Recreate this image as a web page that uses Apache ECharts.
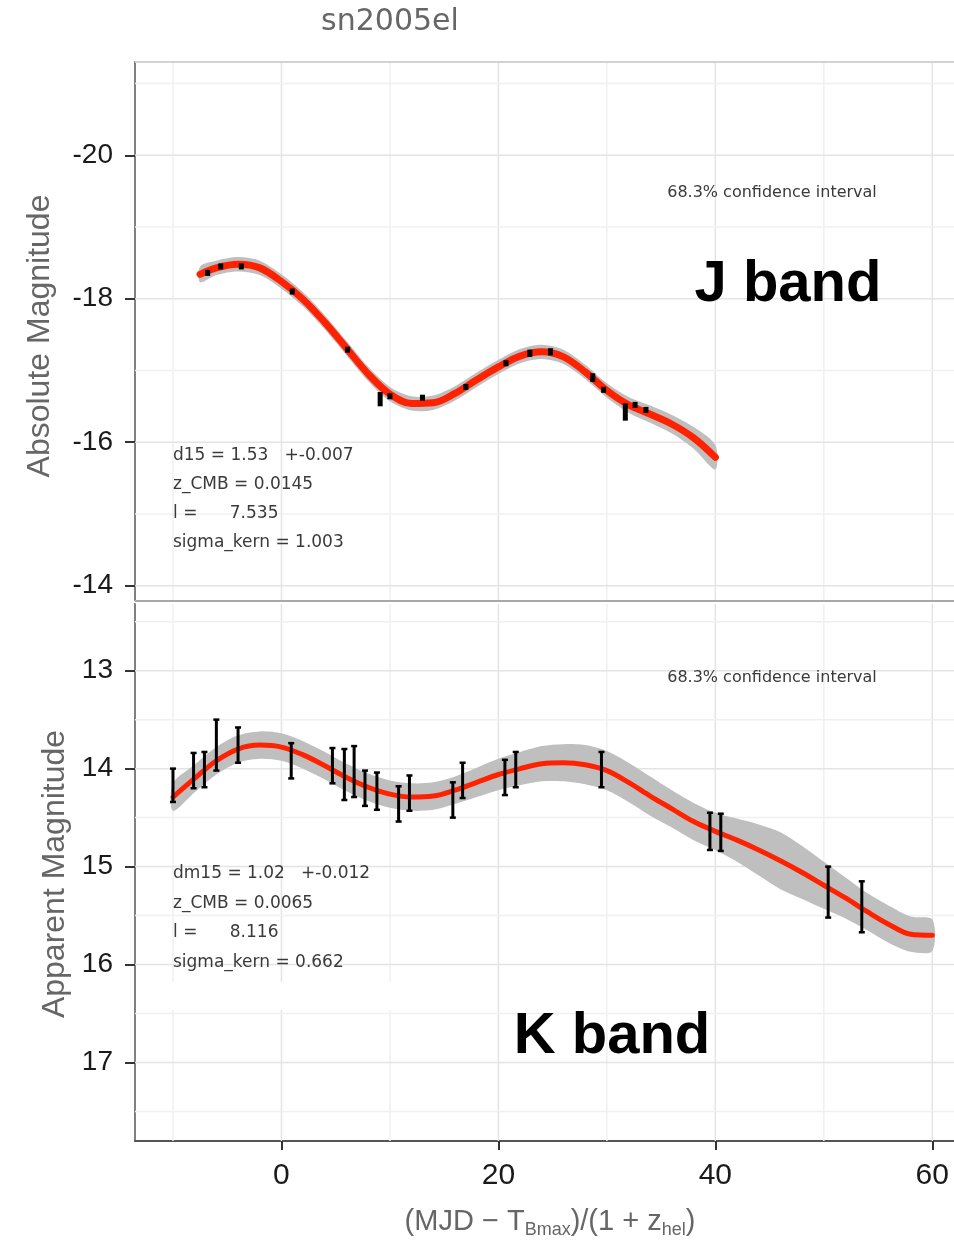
<!DOCTYPE html>
<html>
<head>
<meta charset="utf-8">
<script src="https://cdn.jsdelivr.net/npm/echarts@6/dist/echarts.min.js"></script>
<style>
  html, body { margin: 0; padding: 0; background: #fff; }
  #chart { width: 954px; height: 1243px; }
</style>
</head>
<body>
<div id="chart"></div>
<script>
// ---- J band: Gaussian-process fit (absolute magnitude) ----
const jFitPhase = [-7.5, -6, -4, -2, 0, 2, 4, 6, 8, 10, 12, 14, 16, 18, 20, 22, 24, 26, 28, 30, 32, 34, 36, 38, 40];
const jFitMag = [-18.34, -18.43, -18.48, -18.43, -18.24, -17.99, -17.67, -17.31, -16.95, -16.67, -16.54, -16.55, -16.68, -16.87, -17.05, -17.20, -17.26, -17.19, -16.98, -16.72, -16.52, -16.39, -16.25, -16.06, -15.79];
const jFitSigma = [0.11, 0.10, 0.10, 0.10, 0.10, 0.10, 0.10, 0.10, 0.10, 0.10, 0.10, 0.10, 0.10, 0.10, 0.10, 0.10, 0.10, 0.10, 0.10, 0.10, 0.11, 0.12, 0.13, 0.15, 0.17];

// J band observations
const jObsPhase = [-6.8, -5.6, -3.7, 1.0, 6.1, 9.1, 10.0, 13.0, 17.0, 20.7, 22.9, 24.8, 28.7, 29.7, 31.7, 32.6, 33.6];
const jObsMag = [-18.36, -18.45, -18.45, -18.10, -17.29, -16.60, -16.64, -16.62, -16.77, -17.10, -17.24, -17.26, -16.90, -16.73, -16.42, -16.52, -16.45];
const jObsErr = [0.03, 0.03, 0.03, 0.03, 0.03, 0.10, 0.03, 0.04, 0.03, 0.03, 0.05, 0.05, 0.06, 0.03, 0.12, 0.04, 0.02];

// ---- K band: Gaussian-process fit (apparent magnitude) ----
const kFitPhase = [-10, -8, -6, -4, -2, 0, 2, 4, 6, 8, 10, 12, 14, 16, 18, 20, 22, 24, 26, 28, 30, 32, 34, 36, 38, 40, 42, 44, 46, 48, 50, 52, 54, 56, 58, 60];
const kFitMag = [14.29, 14.10, 13.92, 13.80, 13.76, 13.78, 13.86, 13.97, 14.09, 14.19, 14.26, 14.29, 14.28, 14.22, 14.14, 14.06, 14.00, 13.95, 13.94, 13.96, 14.02, 14.14, 14.28, 14.41, 14.54, 14.64, 14.73, 14.83, 14.94, 15.06, 15.19, 15.32, 15.46, 15.59, 15.69, 15.70];
const kFitSigma = [0.14, 0.14, 0.14, 0.14, 0.14, 0.14, 0.14, 0.14, 0.14, 0.14, 0.14, 0.14, 0.14, 0.14, 0.15, 0.16, 0.17, 0.18, 0.19, 0.20, 0.20, 0.20, 0.20, 0.19, 0.19, 0.19, 0.22, 0.26, 0.29, 0.27, 0.24, 0.21, 0.19, 0.19, 0.18, 0.16];

// K band observations
const kObsPhase = [-10.0, -8.1, -7.1, -6.0, -4.0, 0.9, 4.7, 5.8, 6.7, 7.7, 8.8, 10.8, 11.8, 15.8, 16.7, 20.6, 21.6, 29.5, 39.5, 40.5, 50.4, 53.5];
const kObsMag = [14.17, 14.02, 14.01, 13.76, 13.76, 13.92, 13.97, 14.06, 14.03, 14.20, 14.23, 14.36, 14.25, 14.32, 14.12, 14.09, 14.01, 14.01, 14.64, 14.65, 15.26, 15.41];
const kObsErr = [0.17, 0.18, 0.18, 0.26, 0.18, 0.18, 0.18, 0.26, 0.26, 0.18, 0.19, 0.18, 0.18, 0.18, 0.18, 0.18, 0.18, 0.18, 0.19, 0.19, 0.26, 0.26];

// Axis ticks and grid lines
const phaseTicks = [0, 20, 40, 60];
const phaseMinorGrid = [-10, 10, 30, 50];
const jTicks = [-20, -18, -16, -14];
const jMinorGrid = [-21, -19, -17, -15];
const kTicks = [13, 14, 15, 16, 17];
const kMinorGrid = [12.5, 13.5, 14.5, 15.5, 16.5, 17.5];

// Fit parameter text
const jParams = ['d15 = 1.53   +-0.007', 'z_CMB = 0.0145', 'l =      7.535', 'sigma_kern = 1.003'];
const kParams = ['dm15 = 1.02   +-0.012', 'z_CMB = 0.0065', 'l =      8.116', 'sigma_kern = 0.662'];

// Visible phase window (panel continues past the right edge of the canvas)
const PHASE_MIN = -13.5, PHASE_MAX = 62;
const J_MIN = -21.3, J_MAX = -13.8;
const K_MIN = 12.32, K_MAX = 17.8;

const RED = '#ff2200';
const BAND = '#bfbfbf';
const MAJOR = '#e4e4e4';
const MINOR = '#f0f0f0';

function zip(a, b, c) {
  return a.map((v, i) => c ? [v, b[i], c[i]] : [v, b[i]]);
}

// Vertical / horizontal grid lines drawn through the axis scales
function gridLines(idx, values, vertical, color, width, refOther) {
  return {
    type: 'custom', xAxisIndex: idx, yAxisIndex: idx, silent: true, z: 1,
    data: values.map(v => vertical ? [v, refOther] : [refOther, v]),
    renderItem: function (params, api) {
      const cs = params.coordSys;
      const p = api.coord([api.value(0), api.value(1)]);
      const shape = vertical
        ? { x1: p[0], y1: cs.y, x2: p[0], y2: cs.y + cs.height }
        : { x1: cs.x, y1: p[1], x2: cs.x + cs.width, y2: p[1] };
      return { type: 'line', shape: shape, style: { stroke: color, lineWidth: width } };
    }
  };
}

// Confidence band polygon around the fit
function bandSeries(idx, phase, mag, sigma) {
  return {
    type: 'custom', xAxisIndex: idx, yAxisIndex: idx, silent: true, z: 2,
    data: [[phase[0], mag[0]]],
    renderItem: function (params, api) {
      const upper = phase.map((x, i) => api.coord([x, mag[i] - sigma[i]]));
      const lower = phase.map((x, i) => api.coord([x, mag[i] + sigma[i]])).reverse();
      return { type: 'polygon', shape: { points: upper.concat(lower), smooth: 0.3 }, style: { fill: BAND } };
    }
  };
}

function fitSeries(idx, phase, mag, width) {
  return {
    type: 'line', xAxisIndex: idx, yAxisIndex: idx, silent: true, z: 3,
    data: zip(phase, mag), smooth: 0.35, showSymbol: false, symbol: 'none',
    lineStyle: { color: RED, width: width, cap: 'round' }
  };
}

function errorSeries(idx, phase, mag, err, capped) {
  return {
    type: 'custom', xAxisIndex: idx, yAxisIndex: idx, silent: true, z: 4,
    data: zip(phase, mag, err),
    renderItem: function (params, api) {
      const x = api.value(0), y = api.value(1), e = api.value(2);
      const a = api.coord([x, y - e]);
      const b = api.coord([x, y + e]);
      if (!capped) {
        const c = (a[1] + b[1]) / 2;
        const h = Math.max(Math.abs(b[1] - a[1]), 6);
        return { type: 'rect', shape: { x: a[0] - 2.5, y: c - h / 2, width: 5, height: h }, style: { fill: '#000' } };
      }
      return {
        type: 'group', children: [
          { type: 'line', shape: { x1: a[0], y1: a[1], x2: b[0], y2: b[1] }, style: { stroke: '#000', lineWidth: 3 } },
          { type: 'line', shape: { x1: a[0] - 3, y1: a[1], x2: a[0] + 3, y2: a[1] }, style: { stroke: '#000', lineWidth: 2.5 } },
          { type: 'line', shape: { x1: b[0] - 3, y1: b[1], x2: b[0] + 3, y2: b[1] }, style: { stroke: '#000', lineWidth: 2.5 } }
        ]
      };
    }
  };
}

const labelFont = 'Liberation Sans, Arial, sans-serif';
const smallFont = 'DejaVu Sans, sans-serif';

function paramText(lines, x, y0, step) {
  return lines.map((t, i) => ({
    type: 'text', x: x, y: y0 + i * step, z: 10,
    style: { text: t, fontSize: 17, fontFamily: smallFont, fill: '#3a3a3a', align: 'left', verticalAlign: 'middle' }
  }));
}

const chart = echarts.init(document.getElementById('chart'), null, { renderer: 'canvas' });

chart.setOption({
  animation: false,
  backgroundColor: '#fff',
  grid: [
    { left: 135, top: 62, right: 0, height: 538 },
    { left: 135, top: 604, right: 0, height: 537 }
  ],
  xAxis: [
    {
      gridIndex: 0, type: 'value', min: PHASE_MIN, max: PHASE_MAX,
      axisLine: { show: false }, axisTick: { show: false }, axisLabel: { show: false }, splitLine: { show: false }
    },
    {
      gridIndex: 1, type: 'value', min: PHASE_MIN, max: PHASE_MAX,
      axisLine: { show: true, onZero: false, lineStyle: { color: '#555', width: 2 } },
      axisTick: { show: true, length: 9, customValues: phaseTicks, lineStyle: { color: '#333', width: 2 } },
      axisLabel: { customValues: phaseTicks, fontSize: 30, color: '#1a1a1a', fontFamily: labelFont, margin: 20 },
      splitLine: { show: false }
    }
  ],
  yAxis: [
    {
      gridIndex: 0, type: 'value', min: J_MIN, max: J_MAX, inverse: true,
      axisLine: { show: true, onZero: false, lineStyle: { color: '#808080', width: 2 } },
      axisTick: { show: true, length: 10, customValues: jTicks, lineStyle: { color: '#333', width: 2 } },
      axisLabel: { customValues: jTicks, fontSize: 28, color: '#1a1a1a', fontFamily: labelFont, margin: 22 },
      splitLine: { show: false }
    },
    {
      gridIndex: 1, type: 'value', min: K_MIN, max: K_MAX, inverse: true,
      axisLine: { show: true, onZero: false, lineStyle: { color: '#808080', width: 2 } },
      axisTick: { show: true, length: 10, customValues: kTicks, lineStyle: { color: '#333', width: 2 } },
      axisLabel: { customValues: kTicks, fontSize: 28, color: '#1a1a1a', fontFamily: labelFont, margin: 22 },
      splitLine: { show: false }
    }
  ],
  series: [
    gridLines(0, phaseMinorGrid, true, MINOR, 1.5, J_MIN),
    gridLines(0, phaseTicks, true, MAJOR, 1.5, J_MIN),
    gridLines(0, jMinorGrid, false, MINOR, 1.5, PHASE_MIN),
    gridLines(0, jTicks, false, MAJOR, 1.5, PHASE_MIN),
    gridLines(1, phaseMinorGrid, true, MINOR, 1.5, K_MIN),
    gridLines(1, phaseTicks, true, MAJOR, 1.5, K_MIN),
    gridLines(1, kMinorGrid, false, MINOR, 1.5, PHASE_MIN),
    gridLines(1, kTicks, false, MAJOR, 1.5, PHASE_MIN),
    bandSeries(0, jFitPhase, jFitMag, jFitSigma),
    fitSeries(0, jFitPhase, jFitMag, 7),
    errorSeries(0, jObsPhase, jObsMag, jObsErr, false),
    bandSeries(1, kFitPhase, kFitMag, kFitSigma),
    fitSeries(1, kFitPhase, kFitMag, 5),
    errorSeries(1, kObsPhase, kObsMag, kObsErr, true)
  ],
  graphic: [
    // panel frame lines
    { type: 'line', z: 6, shape: { x1: 135, y1: 62, x2: 954, y2: 62 }, style: { stroke: '#d2d2d2', lineWidth: 2 } },
    { type: 'line', z: 6, shape: { x1: 135, y1: 601, x2: 954, y2: 601 }, style: { stroke: '#a8a8a8', lineWidth: 2 } },
    // blank strip below the K-band parameters
    { type: 'rect', z: 5, shape: { x: 137, y: 982, width: 310, height: 28 }, style: { fill: '#fff' } },
    // title
    { type: 'text', x: 390, y: 22, z: 10, style: { text: 'sn2005el', fontSize: 30, fontFamily: smallFont, fill: '#666', align: 'center', verticalAlign: 'middle' } },
    // y-axis titles
    { type: 'text', x: 40, y: 336, rotation: Math.PI / 2, z: 10, style: { text: 'Absolute Magnitude', fontSize: 32, fontFamily: labelFont, fill: '#666', align: 'center', verticalAlign: 'middle' } },
    { type: 'text', x: 55, y: 874, rotation: Math.PI / 2, z: 10, style: { text: 'Apparent Magnitude', fontSize: 32, fontFamily: labelFont, fill: '#666', align: 'center', verticalAlign: 'middle' } },
    // x-axis title
    {
      type: 'text', x: 550, y: 1222, z: 10,
      style: {
        text: '(MJD − T{s|Bmax})/(1 + z{s|hel})', fontSize: 29, fontFamily: labelFont, fill: '#666',
        align: 'center', verticalAlign: 'middle',
        rich: { s: { fontSize: 18, fontFamily: labelFont, fill: '#666', verticalAlign: 'bottom', padding: [16, 0, 0, 0] } }
      }
    },
    // band labels
    { type: 'text', x: 788, y: 285, z: 10, style: { text: 'J band', fontSize: 58, fontWeight: 'bold', fontFamily: labelFont, fill: '#000', align: 'center', verticalAlign: 'middle' } },
    { type: 'text', x: 612, y: 1037, z: 10, style: { text: 'K band', fontSize: 58, fontWeight: 'bold', fontFamily: labelFont, fill: '#000', align: 'center', verticalAlign: 'middle' } },
    // confidence labels
    { type: 'text', x: 772, y: 193, z: 10, style: { text: '68.3% confidence interval', fontSize: 16, fontFamily: smallFont, fill: '#3a3a3a', align: 'center', verticalAlign: 'middle' } },
    { type: 'text', x: 772, y: 678, z: 10, style: { text: '68.3% confidence interval', fontSize: 16, fontFamily: smallFont, fill: '#3a3a3a', align: 'center', verticalAlign: 'middle' } }
  ].concat(paramText(jParams, 173, 456, 29), paramText(kParams, 173, 874, 29.5))
});
</script>
</body>
</html>
